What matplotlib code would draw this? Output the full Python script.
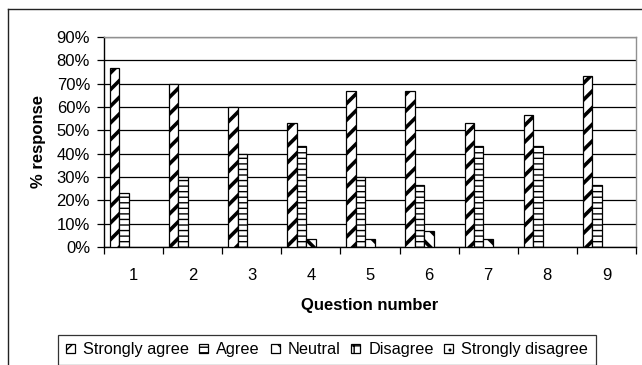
import matplotlib
matplotlib.use("Agg")
import matplotlib.pyplot as plt
import numpy as np
from matplotlib.lines import Line2D
from matplotlib.patches import Patch

plt.rcParams['font.family'] = ['Liberation Sans', 'DejaVu Sans']

questions = ['1', '2', '3', '4', '5', '6', '7', '8', '9']
series = ['Strongly agree', 'Agree', 'Neutral', 'Disagree', 'Strongly disagree']
strongly_agree = [76.7, 70.0, 60.0, 53.3, 66.7, 66.7, 53.3, 56.7, 73.3]
agree = [23.3, 30.0, 40.0, 43.3, 30.0, 26.7, 43.3, 43.3, 26.7]
neutral = [0.0, 0.0, 0.0, 3.3, 3.3, 6.7, 3.3, 0.0, 0.0]
disagree = [0.0, 0.0, 0.0, 0.0, 0.0, 0.0, 0.0, 0.0, 0.0]
strongly_disagree = [0.0, 0.0, 0.0, 0.0, 0.0, 0.0, 0.0, 0.0, 0.0]
values = [strongly_agree, agree, neutral, disagree, strongly_disagree]
hatches = ['//', '---', '\\\\', '++', '..']
hatch_lw = [2.6, 1.0, 2.6, 0.8, 0.8]

fig = plt.figure(figsize=(6.42, 3.65), dpi=100)
W, H = 642, 365
ax = fig.add_axes([104 / W, 1 - 247 / H, (636 - 104) / W, (247 - 37) / H])

# outer chart frame (top and left edges visible)
fig.add_artist(Line2D([8 / W, 1.0], [1 - 9 / H, 1 - 9 / H], transform=fig.transFigure,
                      color='#222222', lw=1.0))
fig.add_artist(Line2D([8 / W, 8 / W], [1 - 9 / H, 0.0], transform=fig.transFigure,
                      color='#222222', lw=1.0))

x = np.arange(len(questions))
bw = 0.16
proxies = []
for i, (name, vals) in enumerate(zip(series, values)):
    pos = x + (i - 2) * bw
    v = np.array(vals)
    bars = ax.bar(pos, v, width=bw, color='white', edgecolor='black', linewidth=0.9,
                  hatch=hatches[i], zorder=3)
    for b, val in zip(bars, v):
        if hasattr(b, 'set_hatch_linewidth'):
            b.set_hatch_linewidth(hatch_lw[i])
        if val <= 0:
            b.set_visible(False)
    p = Patch(facecolor='white', edgecolor='black', linewidth=0.9, hatch=hatches[i], label=name)
    if hasattr(p, 'set_hatch_linewidth'):
        p.set_hatch_linewidth(hatch_lw[i])
    proxies.append(p)

ax.set_xlim(-0.5, len(questions) - 0.5)
ax.set_ylim(0, 90)
ax.set_yticks(np.arange(0, 91, 10))
ax.set_yticklabels([f'{v}%' for v in range(0, 91, 10)], fontsize=12)
ax.yaxis.grid(True, color='black', lw=0.9, zorder=0)
ax.set_axisbelow(True)

ax.set_xticks(np.arange(-0.5, len(questions), 1.0))
ax.set_xticklabels([])
ax.set_xticks(x, minor=True)
ax.set_xticklabels(questions, minor=True, fontsize=12)
ax.tick_params(axis='x', which='major', direction='out', length=5, width=0.9)
ax.tick_params(axis='x', which='minor', length=0, pad=15)
ax.tick_params(axis='y', direction='out', length=5, width=0.9, pad=5)

ax.spines['left'].set_color('black')
ax.spines['bottom'].set_color('black')
ax.spines['top'].set_color('#909090')
ax.spines['right'].set_color('#909090')
for s in ax.spines.values():
    s.set_linewidth(1.0)

ax.set_ylabel('% response', fontsize=12, fontweight='bold', labelpad=8)
ax.set_xlabel('Question number', fontsize=12, fontweight='bold', labelpad=11)

leg = fig.legend(handles=proxies, labels=series, ncol=5, loc='upper center',
                 bbox_to_anchor=(327 / W, 1 - 335 / H), fontsize=11.7, frameon=True,
                 fancybox=False, edgecolor='black', handlelength=0.55, handleheight=0.55,
                 handletextpad=0.5, columnspacing=0.65, borderpad=0.45, borderaxespad=0)
leg.get_frame().set_linewidth(0.9)

fig.savefig('out.png', dpi=100)
